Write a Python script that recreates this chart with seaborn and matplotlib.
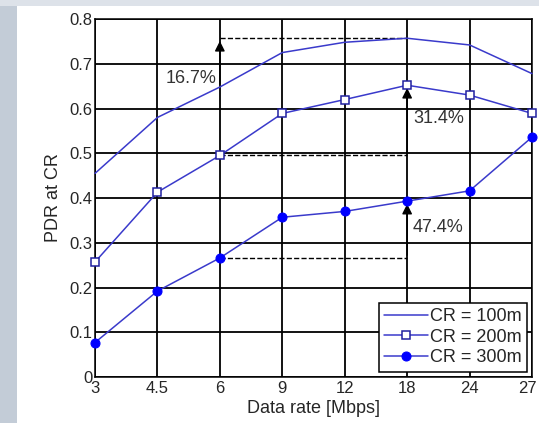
"""PDR at CR versus data rate for three communication ranges."""

import matplotlib

matplotlib.use("Agg")

import matplotlib.pyplot as plt
import matplotlib.transforms as mtransforms
import pandas as pd
import seaborn as sns
from matplotlib.patches import Rectangle

RATES = ["3", "4.5", "6", "9", "12", "18", "24", "27"]
PDR_100 = [0.455, 0.58, 0.648, 0.725, 0.748, 0.757, 0.742, 0.678]
PDR_200 = [0.257, 0.413, 0.495, 0.589, 0.620, 0.652, 0.630, 0.589]
PDR_300 = [0.077, 0.192, 0.266, 0.357, 0.370, 0.393, 0.416, 0.536]
SERIES = ["CR = 100m", "CR = 200m", "CR = 300m"]
GAINS = ["16.7%", "31.4%", "47.4%"]

LINE_COLOR = "#3a3acb"
MARKER_COLOR = "#0000ff"

sns.set_style("white")
plt.rcParams["font.family"] = ["Liberation Sans", "DejaVu Sans"]

fig = plt.figure(figsize=(5.39, 4.23), dpi=100)

# slide-like background strips
fig.patches.append(Rectangle((0, 0), 17 / 539, 1, transform=fig.transFigure,
                             facecolor="#c3ccd7", edgecolor="none", zorder=-5))
fig.patches.append(Rectangle((0, 1 - 6 / 423), 1, 6 / 423, transform=fig.transFigure,
                             facecolor="#dde2e9", edgecolor="none", zorder=-5))

ax = fig.add_axes([95 / 539, 1 - 377 / 423, (532 - 95) / 539, (377 - 19) / 423])

df = pd.DataFrame({"rate": RATES, "r100": PDR_100, "r200": PDR_200, "r300": PDR_300})

sns.lineplot(data=df, x="rate", y="r100", ax=ax, color=LINE_COLOR, lw=1.1,
             label=SERIES[0], sort=False, clip_on=False, zorder=4)
sns.lineplot(data=df, x="rate", y="r200", ax=ax, color=LINE_COLOR, lw=1.1,
             marker="s", markersize=6, markerfacecolor="white",
             markeredgecolor="#2020a0", markeredgewidth=1.1,
             label=SERIES[1], sort=False, clip_on=False, zorder=4)
sns.lineplot(data=df, x="rate", y="r300", ax=ax, color=LINE_COLOR, lw=1.1,
             marker="o", markersize=6.5, markerfacecolor=MARKER_COLOR,
             markeredgecolor=MARKER_COLOR, label=SERIES[2], sort=False,
             clip_on=False, zorder=4)

ax.set_xlim(0, len(RATES) - 1)
ax.set_ylim(0, 0.8)
ax.set_yticks([i / 10 for i in range(9)])
ax.set_yticklabels(["0"] + [f"{i / 10:.1f}" for i in range(1, 9)])
ax.grid(True, color="black", lw=1.3)
ax.tick_params(labelsize=12, length=3, direction="in", colors="#262626")
ax.tick_params(axis="x", pad=3)
ax.tick_params(axis="y", pad=2)
for side in ax.spines.values():
    side.set_color("black")
    side.set_linewidth(1.1)
ax.set_xlabel("Data rate [Mbps]", fontsize=13, labelpad=3, color="#262626")
ax.set_ylabel("PDR at CR", fontsize=13, labelpad=5, color="#262626")

# keep the last x tick label inside the picture
last = ax.get_xticklabels()[-1]
last.set_transform(last.get_transform()
                   + mtransforms.ScaledTranslation(-5 / 100, 0, fig.dpi_scale_trans))

# reference / target positions for gain annotations
x_ref = RATES.index("6")
x_best = RATES.index("18")
arrow = dict(arrowstyle="-|>", color="black", lw=1.0, mutation_scale=15)

ax.plot([x_ref, x_best], [PDR_100[x_best], PDR_100[x_best]], "k--", lw=1.0)
ax.annotate("", xy=(x_ref, PDR_100[x_best]), xytext=(x_ref, PDR_100[x_ref]),
            arrowprops=arrow)
ax.text(x_ref - 0.06, 0.667, GAINS[0], ha="right", va="center", fontsize=13,
        color="#333333")

ax.plot([x_ref, x_best], [PDR_200[x_ref], PDR_200[x_ref]], "k--", lw=1.0)
ax.annotate("", xy=(x_best, PDR_200[x_best]), xytext=(x_best, PDR_200[x_ref]),
            arrowprops=arrow)
ax.text(x_best + 0.1, 0.578, GAINS[1], ha="left", va="center", fontsize=13,
        color="#333333")

ax.plot([x_ref, x_best], [PDR_300[x_ref], PDR_300[x_ref]], "k--", lw=1.0)
ax.annotate("", xy=(x_best, PDR_300[x_best]), xytext=(x_best, PDR_300[x_ref]),
            arrowprops=arrow)
ax.text(x_best + 0.08, 0.335, GAINS[2], ha="left", va="center", fontsize=13,
        color="#333333")

leg = ax.legend(loc="lower right", fontsize=13, handlelength=2.4,
                handletextpad=0.1, borderpad=0.3, labelspacing=0.2,
                fancybox=False, framealpha=1, edgecolor="black",
                borderaxespad=0.3)
leg.get_frame().set_linewidth(1.1)
leg.set_zorder(5)

fig.savefig("out.png", dpi=100)
